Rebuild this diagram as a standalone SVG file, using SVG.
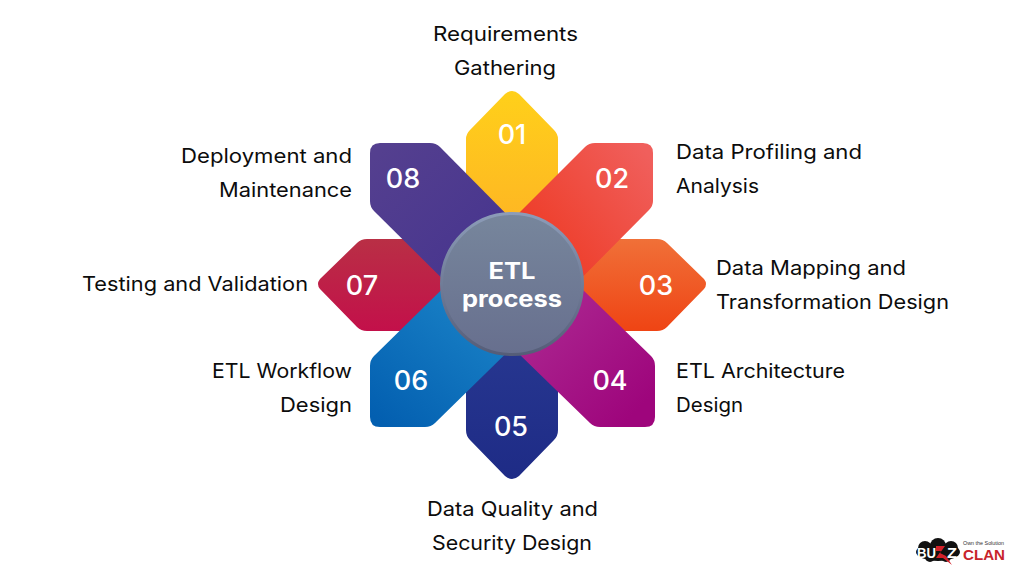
<svg xmlns="http://www.w3.org/2000/svg" width="1024" height="584" viewBox="0 0 1024 584">
<style>
.lbl{font-family:"Inter","Liberation Sans",sans-serif;font-size:20px;font-weight:400;fill:#0c0c0c}
.num{font-family:"Inter","Liberation Sans",sans-serif;font-size:27px;font-weight:500;fill:#fff;text-anchor:middle}
.ctr{font-family:"Inter","Liberation Sans",sans-serif;font-size:23px;font-weight:700;fill:#fff;text-anchor:middle}
.logo{font-family:"Liberation Sans",sans-serif;font-weight:700}
</style>
<defs>
<linearGradient id="g1" x1="0" y1="0" x2="0" y2="1"><stop offset="0" stop-color="#ffd01a"/><stop offset="1" stop-color="#fdaa28"/></linearGradient>
<linearGradient id="g2" x1="1" y1="0.1" x2="0" y2="0.9"><stop offset="0" stop-color="#f05f5c"/><stop offset="0.6" stop-color="#ee3f2c"/><stop offset="1" stop-color="#ee3a24"/></linearGradient>
<linearGradient id="g3" x1="0" y1="0" x2="0" y2="1"><stop offset="0" stop-color="#f07038"/><stop offset="1" stop-color="#ef4414"/></linearGradient>
<linearGradient id="g4" x1="0.1" y1="0.1" x2="0.9" y2="0.9"><stop offset="0" stop-color="#b03398"/><stop offset="1" stop-color="#9e057c"/></linearGradient>
<linearGradient id="g5" x1="0" y1="0" x2="0" y2="1"><stop offset="0" stop-color="#2b3c94"/><stop offset="1" stop-color="#1e2b86"/></linearGradient>
<linearGradient id="g6" x1="0.9" y1="0" x2="0.1" y2="1"><stop offset="0" stop-color="#2390d0"/><stop offset="1" stop-color="#035fb0"/></linearGradient>
<linearGradient id="g7" x1="0" y1="0" x2="0" y2="1"><stop offset="0" stop-color="#b92f45"/><stop offset="1" stop-color="#c3104a"/></linearGradient>
<linearGradient id="g8" x1="0" y1="0" x2="1" y2="1"><stop offset="0" stop-color="#55408f"/><stop offset="1" stop-color="#41308e"/></linearGradient>
<linearGradient id="gc" x1="0" y1="0" x2="0" y2="1"><stop offset="0" stop-color="#77869c"/><stop offset="1" stop-color="#676f8e"/></linearGradient>
<linearGradient id="gs" x1="0" y1="0" x2="0" y2="1"><stop offset="0" stop-color="#8c9cb8"/><stop offset="1" stop-color="#555d78"/></linearGradient>
</defs>
<g id="node-01"><path fill="url(#g1)" d="M466 139Q466 134 470 130L505 94Q512 88 519 94L554 130Q558 134 558 139V284H466Z"/><text class="num" x="512" y="144">01</text></g>
<g id="node-03"><path fill="url(#g3)" d="M512 239H657Q663 239 667 243L704 279Q708 284 704 289L667 327Q663 331 657 331H512Z"/><text class="num" x="656" y="295">03</text></g>
<g id="node-05"><path fill="url(#g5)" d="M466 284H558V430Q558 436 554 440L519 476Q512 482 505 476L470 440Q466 436 466 430Z"/><text class="num" x="511" y="436">05</text></g>
<g id="node-07"><path fill="url(#g7)" d="M512 239H367Q361 239 357 243L320 279Q316 284 320 289L357 327Q361 331 367 331H512Z"/><text class="num" x="362" y="295">07</text></g>
<g id="node-02"><path fill="url(#g2)" d="M480 252L585 147Q589 143 595 143H643Q653 143 653 153V201Q653 206 649 210L544 316Z"/><text class="num" x="612" y="188">02</text></g>
<g id="node-04"><path fill="url(#g4)" d="M480 316L544 252L651 356Q655 360 655 366V417Q655 427 645 427H600Q594 427 590 423Z"/><text class="num" x="610" y="390">04</text></g>
<g id="node-06"><path fill="url(#g6)" d="M544 316L435 423Q431 427 425 427H380Q370 427 370 417V366Q370 360 374 356L480 252Z"/><text class="num" x="411" y="390">06</text></g>
<g id="node-08"><path fill="url(#g8)" d="M544 252L440 147Q436 143 430 143H380Q370 143 370 153V201Q370 207 374 211L480 316Z"/><text class="num" x="403" y="188">08</text></g>
<g id="node-center"><circle cx="512" cy="284" r="70.5" fill="url(#gc)" stroke="url(#gs)" stroke-width="3"/><text class="ctr" x="512" y="279" textLength="47" lengthAdjust="spacingAndGlyphs">ETL</text><text class="ctr" x="512" y="307" textLength="100" lengthAdjust="spacingAndGlyphs">process</text></g>
<g id="labels">
<text class="lbl" x="433" y="41" textLength="145" lengthAdjust="spacingAndGlyphs">Requirements</text>
<text class="lbl" x="454" y="75" textLength="102" lengthAdjust="spacingAndGlyphs">Gathering</text>
<text class="lbl" x="676" y="159" textLength="186" lengthAdjust="spacingAndGlyphs">Data Profiling and</text>
<text class="lbl" x="676" y="193" textLength="83" lengthAdjust="spacingAndGlyphs">Analysis</text>
<text class="lbl" x="716" y="275" textLength="190" lengthAdjust="spacingAndGlyphs">Data Mapping and</text>
<text class="lbl" x="716" y="309" textLength="233" lengthAdjust="spacingAndGlyphs">Transformation Design</text>
<text class="lbl" x="676" y="378" textLength="169" lengthAdjust="spacingAndGlyphs">ETL Architecture</text>
<text class="lbl" x="676" y="412" textLength="67" lengthAdjust="spacingAndGlyphs">Design</text>
<text class="lbl" x="427" y="516" textLength="171" lengthAdjust="spacingAndGlyphs">Data Quality and</text>
<text class="lbl" x="432" y="550" textLength="160" lengthAdjust="spacingAndGlyphs">Security Design</text>
<text class="lbl" x="212" y="378" textLength="140" lengthAdjust="spacingAndGlyphs">ETL Workflow</text>
<text class="lbl" x="280" y="412" textLength="72" lengthAdjust="spacingAndGlyphs">Design</text>
<text class="lbl" x="82" y="291" textLength="226" lengthAdjust="spacingAndGlyphs">Testing and Validation</text>
<text class="lbl" x="181" y="163" textLength="171" lengthAdjust="spacingAndGlyphs">Deployment and</text>
<text class="lbl" x="219" y="197" textLength="133" lengthAdjust="spacingAndGlyphs">Maintenance</text>
</g>
<g id="logo">
<ellipse cx="938" cy="552" rx="22" ry="9" fill="#111"/>
<circle cx="925" cy="548" r="7" fill="#111"/><circle cx="938" cy="546" r="8" fill="#111"/><circle cx="951" cy="548" r="7" fill="#111"/><circle cx="930" cy="557" r="5" fill="#111"/><circle cx="946" cy="557" r="5" fill="#111"/>
<text class="logo" x="917" y="558" font-size="14" fill="#fff" textLength="19" lengthAdjust="spacingAndGlyphs">BU</text>
<path d="M936 546H945L940 553L946 556L952 565L943 558L936 558L941 551H936Z" fill="#d3202a"/>
<text class="logo" x="947" y="558" font-size="14" fill="#fff" textLength="10" lengthAdjust="spacingAndGlyphs">Z</text>
<text class="logo" x="963" y="560" font-size="15" fill="#c8242b" textLength="42" lengthAdjust="spacingAndGlyphs">CLAN</text>
<text x="963" y="545" font-family="Liberation Sans,sans-serif" font-size="5" fill="#333" textLength="41" lengthAdjust="spacingAndGlyphs">Own the Solution</text>
</g>
</svg>
